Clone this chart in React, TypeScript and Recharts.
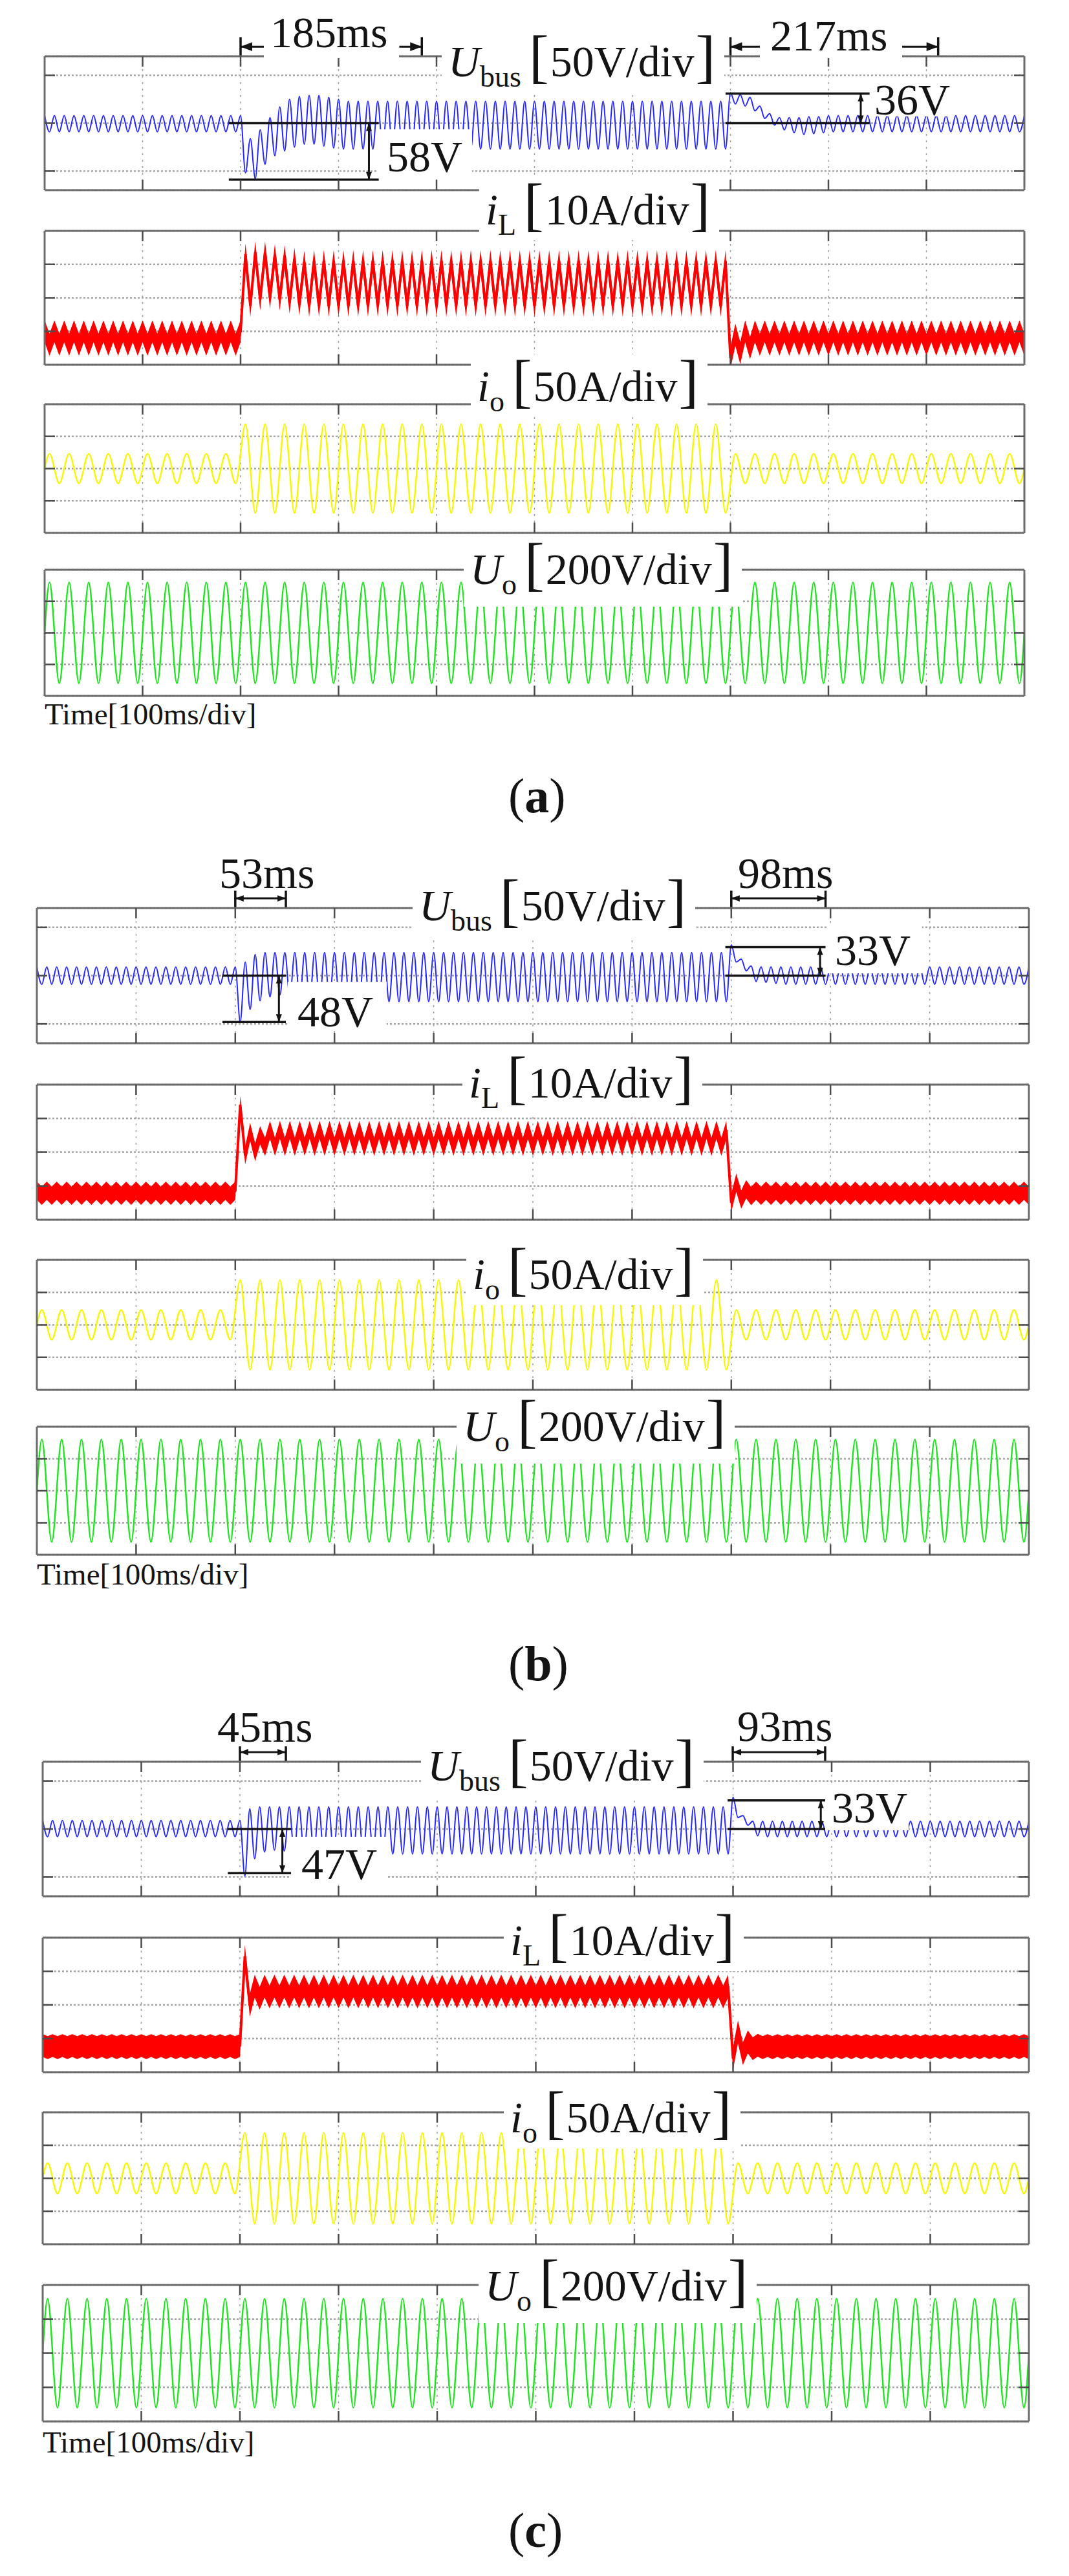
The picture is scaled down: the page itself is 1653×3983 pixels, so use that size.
import React from 'react';
import { ComposedChart, Line, Area, XAxis, YAxis, CartesianGrid, ReferenceLine } from 'recharts';

if (typeof document !== 'undefined') document.body.style.margin = '0';

const FONT = '"Liberation Serif", "Times New Roman", Times, serif';
const INK = '#141414';

// sample grid: ripple traces (Ubus, iL) hold one extremum every 5 ms (100 Hz ripple),
// line-frequency traces (io, Uo) one extremum every 10 ms starting at 5 ms (50 Hz)
const RIPPLE_DT = 0.005;
const LINE_T0 = 0.005;
const LINE_DT = 0.01;
const EDGE_VALUE = 0; // io / Uo start and end on a zero crossing
const TIME_TICKS = [0.1, 0.2, 0.3, 0.4, 0.5, 0.6, 0.7, 0.8, 0.9];

// ---------- Ubus, deviation from the bus reference in V (50 V/div) ----------
const ubusA_pre = [
  8, -9, 8, -9, 8, -9, 8, -9, 8, -9, 8, -9, 8, -9, 8, -9, 8, -9, 8, -9,
  8, -9, 8, -9, 8, -9, 8, -9, 8, -9, 8, -9, 8, -9, 8, -9, 8, -9, 8, -9,
  8,
];
const ubusA_rise = [-52, -16, -58, -7, -43, 6, -34, 17, -29, 25, -25, 28, -22, 29, -22, 29, -24, 27, -26, 25];
const ubusA_loaded = [
  -27, 23, -27, 23, -27, 23, -27, 23, -27, 23, -27, 23, -27, 23, -27, 23, -27, 23, -27, 23,
  -27, 23, -27, 23, -27, 23, -27, 23, -27, 23, -27, 23, -27, 23, -27, 23, -27, 23, -27, 23,
  -27, 23, -27, 23, -27, 23, -27, 23, -27, 23, -27, 23, -27, 23, -27, 23, -27, 23, -27, 23,
  -27, 23, -27, 23, -27, 23, -27, 23, -27, 23, -27, 23, -27, 23, -27, 23, -27, 23,
  -27,
];
const ubusA_fall = [32, 20, 30, 18, 27, 13, 18, 5, 10, -2, 6, -7, 6, -10, 6, -12, 7, -11, 7, -10, 8];
const ubusA_post = [
  -9, 8, -9, 8, -9, 8, -9, 8, -9, 8, -9, 8, -9, 8, -9, 8, -9, 8, -9, 8,
  -9, 8, -9, 8, -9, 8, -9, 8, -9, 8, -9, 8, -9, 8, -9, 8, -9, 8, -9, 8,
];

const ubusB_pre = [
  9, -9, 9, -9, 9, -9, 9, -9, 9, -9, 9, -9, 9, -9, 9, -9, 9, -9, 9, -9,
  9, -9, 9, -9, 9, -9, 9, -9, 9, -9, 9, -9, 9, -9, 9, -9, 9, -9, 9, -9,
  9,
];
const ubusB_rise = [-48, 14, -35, 22, -26, 24, -22, 24, -20, 24, -22, 24, -25, 24, -27, 24];
const ubusB_loaded = [
  -27, 24, -27, 24, -27, 24, -27, 24, -27, 24, -27, 24, -27, 24, -27, 24, -27, 24, -27, 24,
  -27, 24, -27, 24, -27, 24, -27, 24, -27, 24, -27, 24, -27, 24, -27, 24, -27, 24, -27, 24,
  -27, 24, -27, 24, -27, 24, -27, 24, -27, 24, -27, 24, -27, 24, -27, 24, -27, 24, -27, 24,
  -27, 24, -27, 24, -27, 24, -27, 24, -27, 24, -27, 24, -27, 24, -27, 24, -27, 24, -27, 24,
  -27, 24,
  -27,
];
const ubusB_fall = [32, 14, 17, 5, 10, -6, 9, -7, 9, -8, 9];
const ubusB_post = [
  -9, 9, -9, 9, -9, 9, -9, 9, -9, 9, -9, 9, -9, 9, -9, 9, -9, 9, -9, 9,
  -9, 9, -9, 9, -9, 9, -9, 9, -9, 9, -9, 9, -9, 9, -9, 9, -9, 9, -9, 9,
  -9, 9, -9, 9, -9, 9, -9, 9, -9, 9,
];

const ubusC_pre = [
  9, -8, 9, -8, 9, -8, 9, -8, 9, -8, 9, -8, 9, -8, 9, -8, 9, -8, 9, -8,
  9, -8, 9, -8, 9, -8, 9, -8, 9, -8, 9, -8, 9, -8, 9, -8, 9, -8, 9, -8,
  9,
];
const ubusC_rise = [-49, 21, -31, 23, -24, 23, -22, 23, -23, 23, -25, 23];
const ubusC_loaded = [
  -26, 23, -26, 23, -26, 23, -26, 23, -26, 23, -26, 23, -26, 23, -26, 23, -26, 23, -26, 23,
  -26, 23, -26, 23, -26, 23, -26, 23, -26, 23, -26, 23, -26, 23, -26, 23, -26, 23, -26, 23,
  -26, 23, -26, 23, -26, 23, -26, 23, -26, 23, -26, 23, -26, 23, -26, 23, -26, 23, -26, 23,
  -26, 23, -26, 23, -26, 23, -26, 23, -26, 23, -26, 23, -26, 23, -26, 23, -26, 23, -26, 23,
  -26, 23, -26, 23, -26, 23,
  -26,
];
const ubusC_fall = [33, 12, 14, 4, 8, -7, 8, -8];
const ubusC_post = [
  8, -8, 8, -8, 8, -8, 8, -8, 8, -8, 8, -8, 8, -8, 8, -8, 8, -8, 8, -8,
  8, -8, 8, -8, 8, -8, 8, -8, 8, -8, 8, -8, 8, -8, 8, -8, 8, -8, 8, -8,
  8, -8, 8, -8, 8, -8, 8, -8, 8, -8, 8, -8,
  8,
];

// ---------- iL, A (10 A/div), centre of the switching band ----------
const ilA_pre = [
  10, 6, 10, 6, 10, 6, 10, 6, 10, 6, 10, 6, 10, 6, 10, 6, 10, 6, 10, 6,
  10, 6, 10, 6, 10, 6, 10, 6, 10, 6, 10, 6, 10, 6, 10, 6, 10, 6, 10, 6,
  10,
];
const ilA_rise = [33, 17.6, 33.6, 19.5, 33.6, 20, 32.8, 19.5, 32.5, 18.5, 31.7, 18, 30.7, 17.6];
const ilA_loaded = [
  31, 17.6, 31, 17.6, 31, 17.6, 31, 17.6, 31, 17.6, 31, 17.6, 31, 17.6, 31, 17.6, 31, 17.6, 31, 17.6,
  31, 17.6, 31, 17.6, 31, 17.6, 31, 17.6, 31, 17.6, 31, 17.6, 31, 17.6, 31, 17.6, 31, 17.6, 31, 17.6,
  31, 17.6, 31, 17.6, 31, 17.6, 31, 17.6, 31, 17.6, 31, 17.6, 31, 17.6, 31, 17.6, 31, 17.6, 31, 17.6,
  31, 17.6, 31, 17.6, 31, 17.6, 31, 17.6, 31, 17.6, 31, 17.6, 31, 17.6, 31, 17.6, 31, 17.6, 31, 17.6,
  31, 17.6, 31, 17.6,
  31,
];
const ilA_fall = [2, 9, 3.5, 10, 5, 10, 6];
const ilA_post = [
  10, 6, 10, 6, 10, 6, 10, 6, 10, 6, 10, 6, 10, 6, 10, 6, 10, 6, 10, 6,
  10, 6, 10, 6, 10, 6, 10, 6, 10, 6, 10, 6, 10, 6, 10, 6, 10, 6, 10, 6,
  10, 6, 10, 6, 10, 6, 10, 6, 10, 6, 10, 6, 10, 6,
];

const ilB_pre = [
  8.6, 7.1, 8.6, 7.1, 8.6, 7.1, 8.6, 7.1, 8.6, 7.1, 8.6, 7.1, 8.6, 7.1, 8.6, 7.1, 8.6, 7.1, 8.6, 7.1,
  8.6, 7.1, 8.6, 7.1, 8.6, 7.1, 8.6, 7.1, 8.6, 7.1, 8.6, 7.1, 8.6, 7.1, 8.6, 7.1, 8.6, 7.1, 8.6, 7.1,
  8.6,
];
const ilB_rise = [34, 19, 26, 20, 25, 21.6];
const ilB_loaded = [
  26.6, 21.6, 26.6, 21.6, 26.6, 21.6, 26.6, 21.6, 26.6, 21.6, 26.6, 21.6, 26.6, 21.6, 26.6, 21.6, 26.6, 21.6, 26.6, 21.6,
  26.6, 21.6, 26.6, 21.6, 26.6, 21.6, 26.6, 21.6, 26.6, 21.6, 26.6, 21.6, 26.6, 21.6, 26.6, 21.6, 26.6, 21.6, 26.6, 21.6,
  26.6, 21.6, 26.6, 21.6, 26.6, 21.6, 26.6, 21.6, 26.6, 21.6, 26.6, 21.6, 26.6, 21.6, 26.6, 21.6, 26.6, 21.6, 26.6, 21.6,
  26.6, 21.6, 26.6, 21.6, 26.6, 21.6, 26.6, 21.6, 26.6, 21.6, 26.6, 21.6, 26.6, 21.6, 26.6, 21.6, 26.6, 21.6, 26.6, 21.6,
  26.6, 21.6, 26.6, 21.6, 26.6, 21.6, 26.6, 21.6, 26.6, 21.6, 26.6, 21.6,
  26.6,
];
const ilB_fall = [5, 11, 6, 9, 7];
const ilB_post = [
  8.6, 7.1, 8.6, 7.1, 8.6, 7.1, 8.6, 7.1, 8.6, 7.1, 8.6, 7.1, 8.6, 7.1, 8.6, 7.1, 8.6, 7.1, 8.6, 7.1,
  8.6, 7.1, 8.6, 7.1, 8.6, 7.1, 8.6, 7.1, 8.6, 7.1, 8.6, 7.1, 8.6, 7.1, 8.6, 7.1, 8.6, 7.1, 8.6, 7.1,
  8.6, 7.1, 8.6, 7.1, 8.6, 7.1, 8.6, 7.1, 8.6, 7.1, 8.6, 7.1, 8.6, 7.1, 8.6, 7.1,
];

const ilC_pre = [
  7.9, 7.3, 7.9, 7.3, 7.9, 7.3, 7.9, 7.3, 7.9, 7.3, 7.9, 7.3, 7.9, 7.3, 7.9, 7.3, 7.9, 7.3, 7.9, 7.3,
  7.9, 7.3, 7.9, 7.3, 7.9, 7.3, 7.9, 7.3, 7.9, 7.3, 7.9, 7.3, 7.9, 7.3, 7.9, 7.3, 7.9, 7.3, 7.9, 7.3,
  7.9,
];
const ilC_rise = [34.5, 19.9, 25.6, 22];
const ilC_loaded = [
  25.6, 22.4, 25.6, 22.4, 25.6, 22.4, 25.6, 22.4, 25.6, 22.4, 25.6, 22.4, 25.6, 22.4, 25.6, 22.4, 25.6, 22.4, 25.6, 22.4,
  25.6, 22.4, 25.6, 22.4, 25.6, 22.4, 25.6, 22.4, 25.6, 22.4, 25.6, 22.4, 25.6, 22.4, 25.6, 22.4, 25.6, 22.4, 25.6, 22.4,
  25.6, 22.4, 25.6, 22.4, 25.6, 22.4, 25.6, 22.4, 25.6, 22.4, 25.6, 22.4, 25.6, 22.4, 25.6, 22.4, 25.6, 22.4, 25.6, 22.4,
  25.6, 22.4, 25.6, 22.4, 25.6, 22.4, 25.6, 22.4, 25.6, 22.4, 25.6, 22.4, 25.6, 22.4, 25.6, 22.4, 25.6, 22.4, 25.6, 22.4,
  25.6, 22.4, 25.6, 22.4, 25.6, 22.4, 25.6, 22.4, 25.6, 22.4, 25.6, 22.4, 25.6, 22.4,
  25.6,
];
const ilC_fall = [4, 12, 5.5, 9, 7, 8];
const ilC_post = [
  7.3, 7.9, 7.3, 7.9, 7.3, 7.9, 7.3, 7.9, 7.3, 7.9, 7.3, 7.9, 7.3, 7.9, 7.3, 7.9, 7.3, 7.9, 7.3, 7.9,
  7.3, 7.9, 7.3, 7.9, 7.3, 7.9, 7.3, 7.9, 7.3, 7.9, 7.3, 7.9, 7.3, 7.9, 7.3, 7.9, 7.3, 7.9, 7.3, 7.9,
  7.3, 7.9, 7.3, 7.9, 7.3, 7.9, 7.3, 7.9, 7.3, 7.9, 7.3, 7.9, 7.3, 7.9,
  7.3,
];

// ---------- io, A (50 A/div): peaks of the 50 Hz load current ----------
const io_light = [23, -23, 23, -23, 23, -23, 23, -23, 23, -23, 23, -23, 23, -23, 23, -23, 23, -23, 23, -23];
const io_heavy = [
  69, -69, 69, -69, 69, -69, 69, -69, 69, -69, 69, -69, 69, -69, 69, -69, 69, -69, 69, -69,
  69, -69, 69, -69, 69, -69, 69, -69, 69, -69, 69, -69, 69, -69, 69, -69, 69, -69, 69, -69,
  69, -69, 69, -69, 69, -69, 69, -69, 69, -69,
];
const io_lightPost = [
  23, -23, 23, -23, 23, -23, 23, -23, 23, -23, 23, -23, 23, -23, 23, -23, 23, -23, 23, -23,
  23, -23, 23, -23, 23, -23, 23, -23, 23, -23,
];

// ---------- Uo, V (200 V/div): peaks of the output voltage ----------
const uo_peaks = [
  320, -320, 320, -320, 320, -320, 320, -320, 320, -320, 320, -320, 320, -320, 320, -320, 320, -320, 320, -320,
  320, -320, 320, -320, 320, -320, 320, -320, 320, -320, 320, -320, 320, -320, 320, -320, 320, -320, 320, -320,
  320, -320, 320, -320, 320, -320, 320, -320, 320, -320, 320, -320, 320, -320, 320, -320, 320, -320, 320, -320,
  320, -320, 320, -320, 320, -320, 320, -320, 320, -320, 320, -320, 320, -320, 320, -320, 320, -320, 320, -320,
  320, -320, 320, -320, 320, -320, 320, -320, 320, -320, 320, -320, 320, -320, 320, -320, 320, -320, 320, -320,
];

const ubusA = [...ubusA_pre, ...ubusA_rise, ...ubusA_loaded, ...ubusA_fall, ...ubusA_post];
const ubusB = [...ubusB_pre, ...ubusB_rise, ...ubusB_loaded, ...ubusB_fall, ...ubusB_post];
const ubusC = [...ubusC_pre, ...ubusC_rise, ...ubusC_loaded, ...ubusC_fall, ...ubusC_post];
const ilA = [...ilA_pre, ...ilA_rise, ...ilA_loaded, ...ilA_fall, ...ilA_post];
const ilB = [...ilB_pre, ...ilB_rise, ...ilB_loaded, ...ilB_fall, ...ilB_post];
const ilC = [...ilC_pre, ...ilC_rise, ...ilC_loaded, ...ilC_fall, ...ilC_post];
const ioWave = [...io_light, ...io_heavy, ...io_lightPost];

const rippleSeries = (vals: number[], band = 0) =>
  vals.map((v, i) => ({ t: +(i * RIPPLE_DT).toFixed(3), v, band: [v - band / 2, v + band / 2] }));
const lineSeries = (vals: number[]) => [
  { t: 0, v: EDGE_VALUE },
  ...vals.map((v, i) => ({ t: +(LINE_T0 + i * LINE_DT).toFixed(3), v })),
  { t: 1, v: EDGE_VALUE },
];

const AXES: Record<string, { domain: number[]; ticks: number[] }> = {
  ubus: { domain: [-70, 70], ticks: [-50, 0, 50] },
  il: { domain: [0, 40], ticks: [10, 20, 30] },
  io: { domain: [-100, 100], ticks: [-50, 0, 50] },
  uo: { domain: [-400, 400], ticks: [-200, 0, 200] },
};
const COLORS = { ubus: '#2626ff', il: '#ff0000', io: '#f7f700', uo: '#1be51b' };
const UBUS_TOP = 70;
const ARROW_Y = 80;

const PANELS = [
  {
    tag: 'a', left: 69, width: 1515,
    rows: { ubus: [87, 207], il: [357, 207], io: [625, 199], uo: [881, 195] },
    ubus: ubusA, il: ilA, ilBand: 6.6, io: ioWave, uo: uo_peaks,
    spans: [
      { t0: 0.2, t1: 0.385, top: 90, gap: [0.224, 0.362] },
      { t0: 0.7, t1: 0.912, top: 90, gap: [0.73, 0.875] },
    ],
    steps: [
      { t0: 0.188, t1: 0.341, from: 0, to: -59, at: 0.331 },
      { t0: 0.695, t1: 0.842, from: 31, to: 0, at: 0.833 },
    ],
    masks: [[408, 12, 617, 90], [1175, 12, 1395, 90], [582, 200, 730, 270], [1345, 122, 1472, 180]],
    notes: [
      { text: '185ms', x: 418, base: 73 },
      { text: '217ms', x: 1191, base: 78 },
      { text: '58V', x: 598, base: 265 },
      { text: '36V', x: 1352, base: 177 },
    ],
    labels: { ubus: [683, 118, 25], il: [741, 347, 25], io: [728, 620, 25], uo: [717, 903, 35] },
    timeBase: 1120, tagBase: 1256,
  },
  {
    tag: 'b', left: 57, width: 1534,
    rows: { ubus: [1404, 209], il: [1677, 209], io: [1948, 201], uo: [2206, 198] },
    ubus: ubusB, il: ilB, ilBand: 5.4, io: ioWave, uo: uo_peaks,
    spans: [
      { t0: 0.2, t1: 0.251, top: 88 },
      { t0: 0.7, t1: 0.795, top: 88 },
    ],
    steps: [
      { t0: 0.187, t1: 0.251, from: 0, to: -48, at: 0.244 },
      { t0: 0.694, t1: 0.795, from: 29.5, to: 0, at: 0.7895 },
    ],
    masks: [[445, 1518, 598, 1592], [1278, 1428, 1426, 1505]],
    notes: [
      { text: '53ms', x: 339, base: 1373 },
      { text: '98ms', x: 1141, base: 1373 },
      { text: '48V', x: 460, base: 1587 },
      { text: '33V', x: 1291, base: 1492 },
    ],
    labels: { ubus: [638, 1423, 25], il: [715, 1697, 25], io: [721, 1993, 25], uo: [706, 2228, 35] },
    timeBase: 2450, tagBase: 2598,
  },
  {
    tag: 'c', left: 66, width: 1525,
    rows: { ubus: [2724, 208], il: [2996, 208], io: [3266, 204], uo: [3533, 211] },
    ubus: ubusC, il: ilC, ilBand: 6.8, io: ioWave, uo: uo_peaks,
    spans: [
      { t0: 0.2, t1: 0.2466, top: 86 },
      { t0: 0.6997, t1: 0.7934, top: 86 },
    ],
    steps: [
      { t0: 0.1877, t1: 0.252, from: 0, to: -46, at: 0.243 },
      { t0: 0.6945, t1: 0.794, from: 29.7, to: 0, at: 0.789 },
    ],
    masks: [[450, 2840, 600, 2910], [1276, 2760, 1405, 2830]],
    notes: [
      { text: '45ms', x: 336, base: 2693 },
      { text: '93ms', x: 1140, base: 2692 },
      { text: '47V', x: 466, base: 2905 },
      { text: '33V', x: 1286, base: 2818 },
    ],
    labels: { ubus: [651, 2753, 25], il: [779, 3023, 25], io: [779, 3297, 25], uo: [740, 3557, 35] },
    timeBase: 3792, tagBase: 3938,
  },
];

const AXIS_LINE = { stroke: '#6c6c6c', strokeWidth: 3 };
const TICK_LINE = { stroke: '#4c4c4c', strokeWidth: 2.5 };
const blank = () => '';
const M = 3;

const arrow = (startHead: boolean, endHead: boolean, len = 16) => (p: any) => {
  const { x1, y1, x2, y2 } = p;
  const a = Math.atan2(y2 - y1, x2 - x1);
  const head = (x: number, y: number, ang: number) => {
    const bx = x - len * Math.cos(ang);
    const by = y - len * Math.sin(ang);
    const w = len * 0.38;
    const nx = -Math.sin(ang) * w;
    const ny = Math.cos(ang) * w;
    return `${x},${y} ${bx + nx},${by + ny} ${bx - nx},${by - ny}`;
  };
  return (
    <g>
      <line x1={x1} y1={y1} x2={x2} y2={y2} stroke={INK} strokeWidth={3} />
      {endHead && <polygon points={head(x2, y2, a)} fill={INK} />}
      {startHead && <polygon points={head(x1, y1, a + Math.PI)} fill={INK} />}
    </g>
  );
};

const refSeg = (key: string, a: number[], b: number[], shape?: any) => (
  <ReferenceLine
    key={key}
    xAxisId="b"
    yAxisId="l"
    ifOverflow="visible"
    segment={[{ x: a[0], y: a[1] }, { x: b[0], y: b[1] }]}
    stroke={INK}
    strokeWidth={3.5}
    {...(shape ? { shape } : {})}
  />
);

function annotations(p: any) {
  const out: any[] = [];
  p.spans.forEach((s: any, i: number) => {
    out.push(refSeg(`s${i}a`, [s.t0, UBUS_TOP], [s.t0, s.top]));
    out.push(refSeg(`s${i}b`, [s.t1, UBUS_TOP], [s.t1, s.top]));
    if (s.gap) {
      out.push(refSeg(`s${i}c`, [s.gap[0], ARROW_Y], [s.t0, ARROW_Y], arrow(false, true, 18)));
      out.push(refSeg(`s${i}d`, [s.gap[1], ARROW_Y], [s.t1, ARROW_Y], arrow(false, true, 18)));
    } else {
      out.push(refSeg(`s${i}c`, [s.t0, ARROW_Y], [s.t1, ARROW_Y], arrow(true, true, 13)));
    }
  });
  p.steps.forEach((s: any, i: number) => {
    out.push(refSeg(`d${i}a`, [s.t0, s.from], [s.t1, s.from]));
    out.push(refSeg(`d${i}b`, [s.t0, s.to], [s.t1, s.to]));
    out.push(refSeg(`d${i}c`, [s.at, s.from], [s.at, s.to], arrow(true, true, 12)));
  });
  return out;
}

function Scope({ left, width, row, padTop = 0, axis, data, color, strokeWidth, curve, band, children }: any) {
  const [top, height] = row;
  return (
    <div style={{ position: 'absolute', left: left - M, top: top - padTop - M }}>
      <ComposedChart
        width={width + 2 * M}
        height={height + padTop + 2 * M}
        data={data}
        margin={{ top: padTop + M, right: M, bottom: M, left: M }}
      >
        <CartesianGrid xAxisId="b" yAxisId="l" vertical={false} stroke="#a4a4a4" strokeWidth={2.5} strokeDasharray="3 3" />
        <CartesianGrid xAxisId="b" yAxisId="l" horizontal={false} stroke="#a0a0a0" strokeWidth={1.5} strokeDasharray="3 7" />
        <XAxis xAxisId="b" dataKey="t" type="number" domain={[0, 1]} ticks={TIME_TICKS} mirror
          axisLine={AXIS_LINE} tickLine={TICK_LINE} tickSize={16} tickFormatter={blank} allowDataOverflow />
        <XAxis xAxisId="t" orientation="top" dataKey="t" type="number" domain={[0, 1]} ticks={TIME_TICKS} mirror
          axisLine={AXIS_LINE} tickLine={TICK_LINE} tickSize={16} tickFormatter={blank} allowDataOverflow />
        <YAxis yAxisId="l" type="number" domain={axis.domain} ticks={axis.ticks} mirror
          axisLine={AXIS_LINE} tickLine={TICK_LINE} tickSize={16} tickFormatter={blank} allowDataOverflow />
        <YAxis yAxisId="r" orientation="right" type="number" domain={axis.domain} ticks={axis.ticks} mirror
          axisLine={AXIS_LINE} tickLine={TICK_LINE} tickSize={16} tickFormatter={blank} allowDataOverflow />
        {band && (
          <Area xAxisId="b" yAxisId="l" dataKey="band" type="linear" stroke="none" fill={color} fillOpacity={1}
            isAnimationActive={false} activeDot={false} />
        )}
        <Line xAxisId="b" yAxisId="l" dataKey="v" type={curve} stroke={color} strokeWidth={strokeWidth}
          dot={false} activeDot={false} isAnimationActive={false} />
        <Line xAxisId="t" yAxisId="r" dataKey="v" stroke="none" dot={false} activeDot={false} isAnimationActive={false} />
        {children}
      </ComposedChart>
    </div>
  );
}

function Txt({ x, base, size = 68, children, style }: any) {
  return (
    <div style={{
      position: 'absolute', left: x, top: base - 0.8375 * size, fontFamily: FONT, fontSize: size,
      lineHeight: 1, color: INK, whiteSpace: 'nowrap', ...style,
    }}>
      {children}
    </div>
  );
}

function ScopeLabel({ spec, sym, sub, unit }: any) {
  const [x, base, below] = spec;
  return (
    <div style={{ position: 'absolute', left: x, top: base - 72, height: 72 + below, background: '#fff', paddingLeft: 10, paddingRight: 14 }}>
      <div style={{ display: 'flex', alignItems: 'baseline', whiteSpace: 'nowrap', fontFamily: FONT, color: INK, lineHeight: 1, marginTop: -5 }}>
        <span style={{ fontSize: 68, fontStyle: 'italic' }}>{sym}</span>
        <span style={{ fontSize: 46, position: 'relative', top: 16 }}>{sub}</span>
        <span style={{ fontSize: 92, marginLeft: 12, marginRight: 2 }}>[</span>
        <span style={{ fontSize: 68 }}>{unit}</span>
        <span style={{ fontSize: 92, marginLeft: 2 }}>]</span>
      </div>
    </div>
  );
}

function Panel({ p }: any) {
  const common = { left: p.left, width: p.width };
  return (
    <>
      <Scope {...common} row={p.rows.ubus} padTop={45} axis={AXES.ubus} data={rippleSeries(p.ubus)}
        color={COLORS.ubus} strokeWidth={2} curve="monotone">
        {annotations(p)}
      </Scope>
      <Scope {...common} row={p.rows.il} axis={AXES.il} data={rippleSeries(p.il, p.ilBand)}
        color={COLORS.il} strokeWidth={4} curve="linear" band />
      <Scope {...common} row={p.rows.io} axis={AXES.io} data={lineSeries(p.io)}
        color={COLORS.io} strokeWidth={2.4} curve="monotone" />
      <Scope {...common} row={p.rows.uo} axis={AXES.uo} data={lineSeries(p.uo)}
        color={COLORS.uo} strokeWidth={2.4} curve="monotone" />

      {p.masks.map((m: number[], i: number) => (
        <div key={`m${i}`} style={{ position: 'absolute', left: m[0], top: m[1], width: m[2] - m[0], height: m[3] - m[1], background: '#fff' }} />
      ))}
      {p.notes.map((n: any, i: number) => (
        <Txt key={`n${i}`} x={n.x} base={n.base}>{n.text}</Txt>
      ))}

      <ScopeLabel spec={p.labels.ubus} sym="U" sub="bus" unit="50V/div" />
      <ScopeLabel spec={p.labels.il} sym="i" sub="L" unit="10A/div" />
      <ScopeLabel spec={p.labels.io} sym="i" sub="o" unit="50A/div" />
      <ScopeLabel spec={p.labels.uo} sym="U" sub="o" unit="200V/div" />

      <Txt x={p.left} base={p.timeBase} size={47}>Time[100ms/div]</Txt>
      <Txt x={786} base={p.tagBase} size={76}>
        (<b>{p.tag}</b>)
      </Txt>
    </>
  );
}

export default function App() {
  return (
    <div style={{ position: 'relative', width: 1653, height: 3983, background: '#fff', overflow: 'hidden' }}>
      {PANELS.map((p) => (
        <Panel key={p.tag} p={p} />
      ))}
    </div>
  );
}
